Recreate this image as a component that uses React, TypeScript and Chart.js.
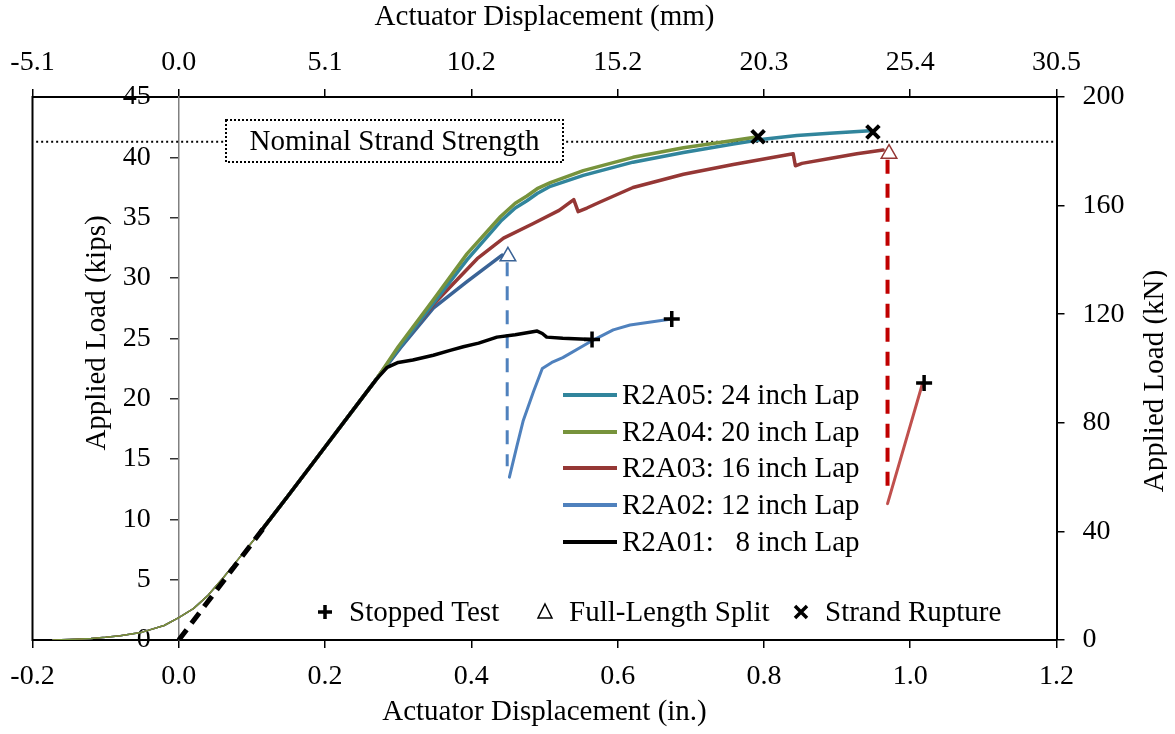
import React, { useEffect, useRef } from "react";
import { Chart, registerables } from "chart.js";

Chart.register(...registerables);

const FONT = "'Liberation Serif', 'Times New Roman', serif";

// ---- axes ----
const xMin = -0.2;
const xMax = 1.2;
const xStep = 0.2;
const kipsMax = 45;
const kipsStep = 5;
const kNMax = 200;
const kNStep = 40;
const MM_PER_IN = 25.4;
const nominalStrength = 41.3;

// ---- shared toe (thin) and linear part ----
const toeX = [-0.172, -0.15, -0.12, -0.1, -0.08, -0.05, -0.02, 0, 0.02, 0.04, 0.06, 0.08, 0.1, 0.112];
const toeY = [0, 0.04, 0.12, 0.22, 0.35, 0.65, 1.2, 1.85, 2.6, 3.7, 5.1, 6.6, 8.1, 9.0];
const linX = [0.112, 0.15, 0.2, 0.25, 0.27];
const linY = [9.0, 12.0, 16.0, 20.0, 21.6];

// ---- series continuations ----
const r2a05X = [0.3, 0.348, 0.394, 0.44, 0.46, 0.476, 0.49, 0.508, 0.553, 0.621, 0.69, 0.758, 0.799, 0.845, 0.89, 0.945];
const r2a05Y = [24.1, 27.9, 31.5, 34.7, 35.8, 36.4, 37.0, 37.6, 38.5, 39.6, 40.4, 41.1, 41.5, 41.8, 42.0, 42.2];
const r2a04X = [0.3, 0.348, 0.394, 0.44, 0.46, 0.476, 0.49, 0.508, 0.553, 0.621, 0.69, 0.758, 0.792];
const r2a04Y = [24.3, 28.2, 32.0, 35.1, 36.2, 36.8, 37.4, 37.9, 38.9, 40.0, 40.8, 41.4, 41.7];
const r2a03X = [0.302, 0.348, 0.408, 0.444, 0.484, 0.52, 0.54, 0.546, 0.558, 0.576, 0.621, 0.69, 0.758, 0.84, 0.843, 0.852, 0.89, 0.927, 0.963];
const r2a03Y = [24.3, 27.8, 31.6, 33.3, 34.5, 35.6, 36.5, 35.5, 35.8, 36.3, 37.5, 38.6, 39.4, 40.3, 39.3, 39.5, 39.9, 40.3, 40.6];
const r2a02X = [0.303, 0.348, 0.394, 0.442];
const r2a02Y = [24.2, 27.5, 29.7, 31.9];
const r2a01X = [0.285, 0.3, 0.32, 0.348, 0.371, 0.389, 0.41, 0.435, 0.46, 0.48, 0.49, 0.497, 0.503, 0.525, 0.565];
const r2a01Y = [22.6, 23.0, 23.2, 23.6, 24.0, 24.3, 24.6, 25.1, 25.3, 25.5, 25.6, 25.4, 25.1, 25.0, 24.9];

// post-split reloading branches
const r2a02PostX = [0.452, 0.462, 0.471, 0.485, 0.497, 0.51, 0.525, 0.562, 0.594, 0.617, 0.662, 0.674];
const r2a02PostY = [13.5, 16.0, 18.2, 20.6, 22.5, 23.0, 23.4, 24.7, 25.7, 26.1, 26.5, 26.6];
const r2a03PostX = [0.969, 0.993, 1.017];
const r2a03PostY = [11.3, 16.3, 21.3];

// drops after split (dashed)
const r2a02DropX = [0.449, 0.449];
const r2a02DropY = [31.3, 14.4];
const r2a03DropX = [0.969, 0.969];
const r2a03DropY = [39.8, 12.5];

// initial stiffness line
const tangentX = [0, 0.115];
const tangentY = [0, 9.2];

// event markers
const stoppedX = [0.565, 0.674, 1.019];
const stoppedY = [24.9, 26.6, 21.3];
const splitX = [0.45, 0.971];
const splitY = [31.8, 40.3];
const ruptureX = [0.792, 0.949];
const ruptureY = [41.7, 42.1];

const seriesLabels = [
  "R2A05: 24 inch Lap",
  "R2A04: 20 inch Lap",
  "R2A03: 16 inch Lap",
  "R2A02: 12 inch Lap",
  "R2A01:   8 inch Lap",
];
const eventLabels = ["Stopped Test", "Full-Length Split", "Strand Rupture"];

const C_TEAL = "#31859C";
const C_GREEN = "#77933C";
const C_RED = "#953735";
const C_DBLUE = "#3A6396";
const C_LBLUE = "#4F81BD";
const C_LRED = "#C0504D";
const C_DRED = "#C00000";
const legendColors = [C_TEAL, C_GREEN, C_RED, C_LBLUE, "#000000"];

const pts = (xs: number[], ys: number[]) => xs.map((x, i) => ({ x, y: ys[i] }));
const clean = (v: any) => {
  const n = Number(v);
  return Math.abs(n) < 1e-9 ? 0 : n;
};

function line(data: any[], color: string, width: number, extra: any = {}) {
  return {
    data,
    showLine: true,
    borderColor: color,
    backgroundColor: color,
    borderWidth: width,
    pointRadius: 0,
    pointHoverRadius: 0,
    tension: 0,
    fill: false,
    borderCapStyle: "round",
    borderJoinStyle: "round",
    ...extra,
  };
}

const overlayPlugin = {
  id: "overlay",
  afterDatasetsDraw(chart: any) {
    const ctx = chart.ctx as CanvasRenderingContext2D;
    const { left, top, bottom } = chart.chartArea;
    ctx.save();
    // left frame line
    ctx.strokeStyle = "#000";
    ctx.lineWidth = 2;
    ctx.beginPath();
    ctx.moveTo(left, top - 1);
    ctx.lineTo(left, bottom + 1);
    ctx.stroke();

    // nominal strand strength box
    ctx.fillStyle = "#fff";
    ctx.fillRect(218, 120, 337, 42);
    ctx.setLineDash([2, 2]);
    ctx.lineWidth = 2;
    ctx.strokeRect(218, 120, 337, 42);
    ctx.setLineDash([]);
    ctx.fillStyle = "#000";
    ctx.font = `29px ${FONT}`;
    ctx.textAlign = "center";
    ctx.textBaseline = "middle";
    ctx.fillText("Nominal Strand Strength", 386.5, 142);

    // series legend
    const rows = [395, 432, 468, 505, 542];
    ctx.textAlign = "left";
    seriesLabels.forEach((lab, i) => {
      ctx.strokeStyle = legendColors[i];
      ctx.lineWidth = 4;
      ctx.beginPath();
      ctx.moveTo(555, rows[i]);
      ctx.lineTo(609, rows[i]);
      ctx.stroke();
      ctx.fillStyle = "#000";
      ctx.fillText(lab, 614, rows[i] + 1);
    });

    // event legend
    const ly = 612;
    ctx.strokeStyle = "#000";
    ctx.lineWidth = 3.5;
    ctx.beginPath();
    ctx.moveTo(310, ly);
    ctx.lineTo(324, ly);
    ctx.moveTo(317, ly - 7);
    ctx.lineTo(317, ly + 7);
    ctx.stroke();
    ctx.lineWidth = 1.5;
    ctx.beginPath();
    ctx.moveTo(537, ly - 8);
    ctx.lineTo(544, ly + 6);
    ctx.lineTo(530, ly + 6);
    ctx.closePath();
    ctx.stroke();
    ctx.lineWidth = 3.5;
    ctx.beginPath();
    ctx.moveTo(787, ly - 6);
    ctx.lineTo(799, ly + 6);
    ctx.moveTo(799, ly - 6);
    ctx.lineTo(787, ly + 6);
    ctx.stroke();
    ctx.fillStyle = "#000";
    ctx.fillText(eventLabels[0], 341, ly + 1);
    ctx.fillText(eventLabels[1], 561, ly + 1);
    ctx.fillText(eventLabels[2], 817, ly + 1);

    // y-axis titles
    ctx.textAlign = "center";
    ctx.save();
    ctx.translate(89.5, 333);
    ctx.rotate(-Math.PI / 2);
    ctx.fillText("Applied Load (kips)", 0, 0);
    ctx.restore();
    ctx.save();
    ctx.translate(1147, 381);
    ctx.rotate(-Math.PI / 2);
    ctx.fillText("Applied Load (kN)", 0, 0);
    ctx.restore();

    ctx.restore();
  },
};

export default function App() {
  const ref = useRef<HTMLCanvasElement>(null);

  useEffect(() => {
    const canvas = ref.current;
    if (!canvas) return;

    const tickFont = { family: FONT, size: 28 };
    const titleFont = { family: FONT, size: 29 };

    const layers: any[] = [
      line(pts([xMin + 0.005, xMax], [nominalStrength, nominalStrength]), "#000", 2, { borderDash: [2, 3], borderCapStyle: "butt" }),
      line(pts(toeX, toeY), C_DBLUE, 1.5),
      line(pts(toeX, toeY), C_TEAL, 1.5),
      line(pts(toeX, toeY), C_RED, 1.5),
      line(pts(toeX, toeY), C_GREEN, 1.5),
      line(pts([...linX, ...r2a02X], [...linY, ...r2a02Y]), C_DBLUE, 3.5),
      line(pts(r2a02PostX, r2a02PostY), C_LBLUE, 3),
      line(pts(r2a02DropX, r2a02DropY), C_LBLUE, 3, { borderDash: [14, 10], borderCapStyle: "butt" }),
      line(pts([...linX, ...r2a03X], [...linY, ...r2a03Y]), C_RED, 3.5),
      line(pts(r2a03PostX, r2a03PostY), C_LRED, 3),
      line(pts(r2a03DropX, r2a03DropY), C_DRED, 4, { borderDash: [14, 10], borderCapStyle: "butt" }),
      line(pts([...linX, ...r2a05X], [...linY, ...r2a05Y]), C_TEAL, 3.5),
      line(pts([...linX, ...r2a04X], [...linY, ...r2a04Y]), C_GREEN, 3.5),
      line(pts([...linX, ...r2a01X], [...linY, ...r2a01Y]), "#000", 3.5),
      line(pts(tangentX, tangentY), "#000", 5, { borderDash: [13, 8], borderCapStyle: "butt" }),
      {
        data: pts(splitX, splitY),
        showLine: false,
        pointStyle: "triangle",
        pointRadius: 9,
        pointBorderWidth: 1.5,
        pointBorderColor: [C_DBLUE, C_RED],
        pointBackgroundColor: "rgba(255,255,255,0)",
      },
      {
        data: pts(stoppedX, stoppedY),
        showLine: false,
        pointStyle: "cross",
        pointRadius: 8,
        pointBorderWidth: 3.5,
        pointBorderColor: "#000",
        pointBackgroundColor: "#000",
      },
      {
        data: pts(ruptureX, ruptureY),
        showLine: false,
        pointStyle: "crossRot",
        pointRadius: 9,
        pointBorderWidth: 4,
        pointBorderColor: "#000",
        pointBackgroundColor: "#000",
      },
    ];
    const n = layers.length;
    const datasets = layers.map((d, i) => ({ ...d, order: n - i, xAxisID: "x", yAxisID: "y" }));

    const noHPad = (s: any) => {
      s.paddingLeft = 0;
      s.paddingRight = 0;
    };

    const chart = new Chart(canvas, {
      type: "scatter",
      data: { datasets },
      options: {
        animation: false,
        responsive: false,
        events: [],
        layout: { padding: { left: 24.5, right: 0, top: 0, bottom: 0 } },
        plugins: { legend: { display: false }, tooltip: { enabled: false } },
        scales: {
          x: {
            type: "linear",
            position: "bottom",
            min: xMin,
            max: xMax,
            ticks: {
              stepSize: xStep,
              autoSkip: false,
              maxRotation: 0,
              padding: 12,
              color: "#000",
              font: tickFont,
              callback: (v: any) => clean(v).toFixed(1),
            },
            grid: { drawOnChartArea: false, drawTicks: true, tickLength: 8, color: "#000", lineWidth: 1.5 },
            border: { display: true, color: "#000", width: 2 },
            title: {
              display: true,
              text: "Actuator Displacement (in.)",
              color: "#000",
              font: titleFont,
              padding: { top: 0, bottom: 4 },
            },
            afterFit: (s: any) => {
              s.height = 94;
              noHPad(s);
            },
          },
          x2: {
            type: "linear",
            position: "top",
            min: xMin,
            max: xMax,
            ticks: {
              stepSize: xStep,
              autoSkip: false,
              maxRotation: 0,
              padding: 10,
              color: "#000",
              font: tickFont,
              callback: (v: any) => (clean(v) * MM_PER_IN).toFixed(1),
            },
            grid: { drawOnChartArea: false, drawTicks: true, tickLength: 8, color: "#000", lineWidth: 1.5 },
            border: { display: true, color: "#000", width: 2 },
            title: {
              display: true,
              text: "Actuator Displacement (mm)",
              color: "#000",
              font: titleFont,
              padding: { top: 0, bottom: 0 },
            },
            afterFit: (s: any) => {
              s.height = 97;
              noHPad(s);
            },
          },
          y: {
            type: "linear",
            position: { x: 0 } as any,
            min: 0,
            max: kipsMax,
            ticks: {
              stepSize: kipsStep,
              autoSkip: false,
              color: "#000",
              font: tickFont,
              callback: (v: any) => `${clean(v)}    `,
            },
            grid: { drawOnChartArea: false, drawTicks: true, tickLength: 8, color: "#333", lineWidth: 1.5 },
            border: { display: true, color: "#808080", width: 1.5 },
          },
          y2: {
            type: "linear",
            position: "right",
            min: 0,
            max: kNMax,
            ticks: {
              stepSize: kNStep,
              autoSkip: false,
              padding: 18,
              color: "#000",
              font: tickFont,
            },
            grid: { drawOnChartArea: false, drawTicks: true, tickLength: 8, color: "#000", lineWidth: 1.5 },
            border: { display: true, color: "#000", width: 2 },
            afterFit: (s: any) => {
              s.width = 110.5;
              s.paddingTop = 0;
              s.paddingBottom = 0;
            },
          },
        },
      } as any,
      plugins: [overlayPlugin],
    });

    return () => chart.destroy();
  }, []);

  return (
    <div style={{ position: "absolute", left: 8, top: 0, width: 1159, height: 734 }}>
      <canvas ref={ref} width={1159} height={734} style={{ display: "block" }} />
    </div>
  );
}
